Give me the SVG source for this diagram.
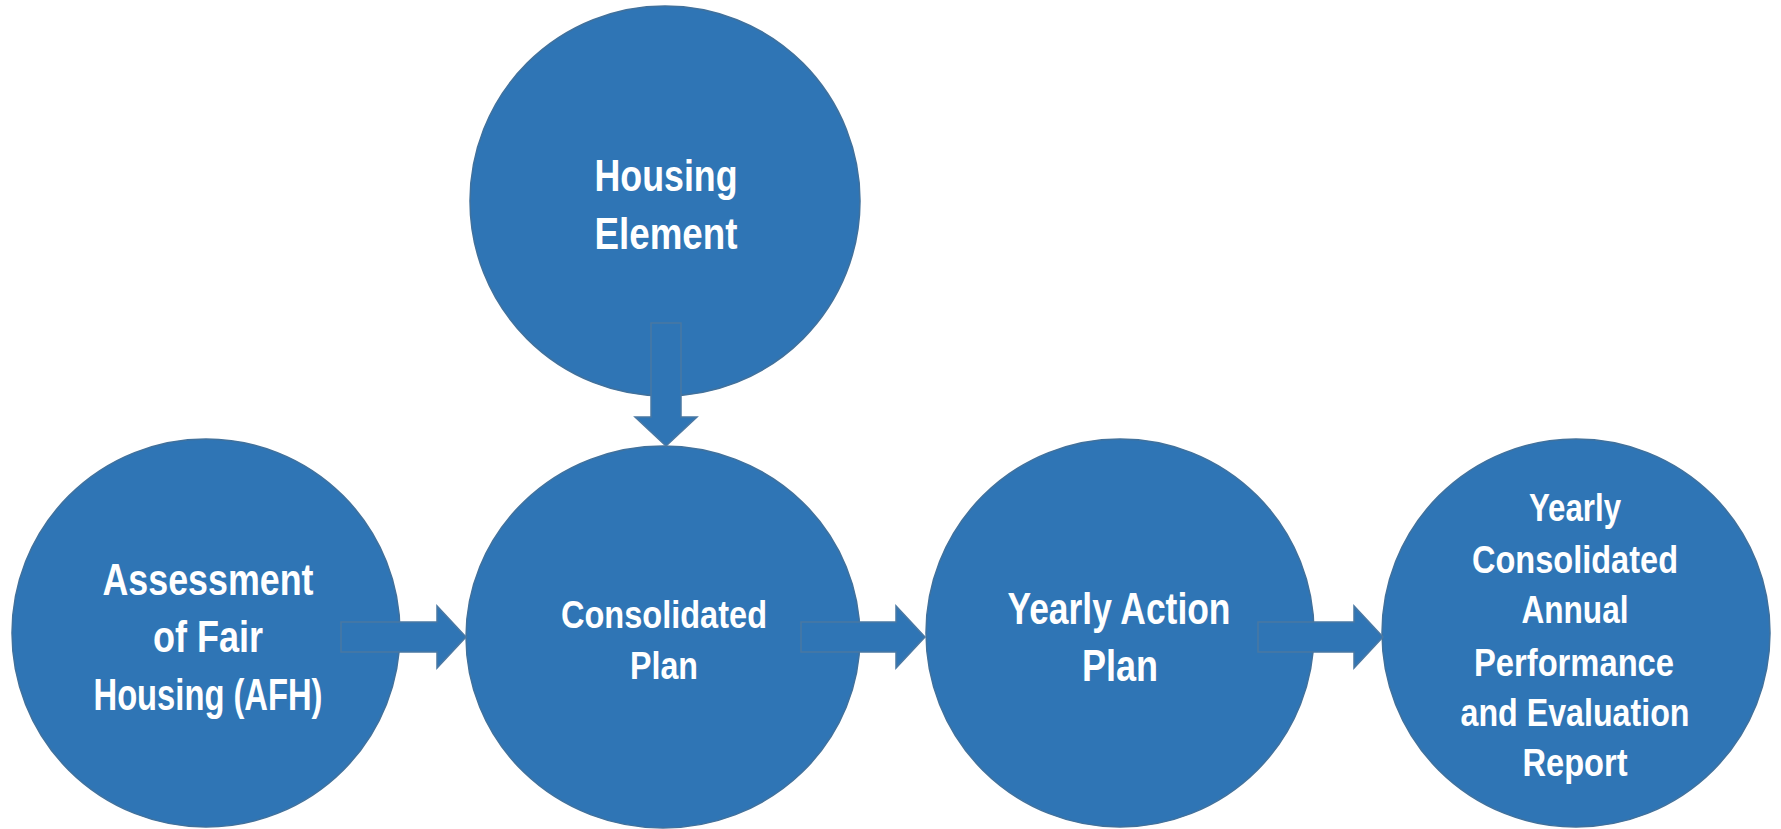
<svg xmlns="http://www.w3.org/2000/svg" width="1781" height="829" viewBox="0 0 1781 829">
<style>
.node{fill:#2F75B5;stroke:#41719C;stroke-width:1.5}
.arrow{fill:#2F75B5;stroke:#4A78A3;stroke-width:1.5}
text{font-family:"Liberation Sans",Arial,sans-serif;font-weight:bold;fill:#FFFFFF;text-anchor:middle}
.lg{font-size:45px}
.sm{font-size:39px}
</style>
<rect width="1781" height="829" fill="#FFFFFF"/>
<g id="housing-element">
<circle class="node" cx="665" cy="201" r="195"/>
<text class="lg" x="666" y="191" textLength="143" lengthAdjust="spacingAndGlyphs">Housing</text>
<text class="lg" x="666" y="249" textLength="143" lengthAdjust="spacingAndGlyphs">Element</text>
</g>
<g id="afh">
<circle class="node" cx="206" cy="633" r="194"/>
<text class="lg" x="208" y="595" textLength="211" lengthAdjust="spacingAndGlyphs">Assessment</text>
<text class="lg" x="208" y="652" textLength="110" lengthAdjust="spacingAndGlyphs">of Fair</text>
<text class="lg" x="208" y="710" textLength="229" lengthAdjust="spacingAndGlyphs">Housing (AFH)</text>
</g>
<g id="consolidated-plan">
<ellipse class="node" cx="663" cy="637" rx="197" ry="191"/>
<text class="sm" x="664" y="628" textLength="206" lengthAdjust="spacingAndGlyphs">Consolidated</text>
<text class="sm" x="664" y="679" textLength="68" lengthAdjust="spacingAndGlyphs">Plan</text>
</g>
<g id="yearly-action-plan">
<circle class="node" cx="1120" cy="633" r="194"/>
<text class="lg" x="1119" y="624" textLength="223" lengthAdjust="spacingAndGlyphs">Yearly Action</text>
<text class="lg" x="1120" y="681" textLength="76" lengthAdjust="spacingAndGlyphs">Plan</text>
</g>
<g id="caper">
<circle class="node" cx="1576" cy="633" r="194"/>
<text class="sm" x="1575" y="521" textLength="92" lengthAdjust="spacingAndGlyphs">Yearly</text>
<text class="sm" x="1575" y="573" textLength="206" lengthAdjust="spacingAndGlyphs">Consolidated</text>
<text class="sm" x="1575" y="623" textLength="107" lengthAdjust="spacingAndGlyphs">Annual</text>
<text class="sm" x="1574" y="676" textLength="200" lengthAdjust="spacingAndGlyphs">Performance</text>
<text class="sm" x="1575" y="726" textLength="229" lengthAdjust="spacingAndGlyphs">and Evaluation</text>
<text class="sm" x="1575" y="776" textLength="105" lengthAdjust="spacingAndGlyphs">Report</text>
</g>
<g id="connectors">
<path class="arrow" d="M651,323 H681 V417 H697 L666,446 L635,417 H651 Z"/>
<path class="arrow" d="M341,622 H437 V606 L466,637 L437,668 V652 H341 Z"/>
<path class="arrow" d="M801,622 H896 V606 L925,637 L896,668 V652 H801 Z"/>
<path class="arrow" d="M1258,622 H1354 V606 L1383,637 L1354,668 V652 H1258 Z"/>
</g>
</svg>
